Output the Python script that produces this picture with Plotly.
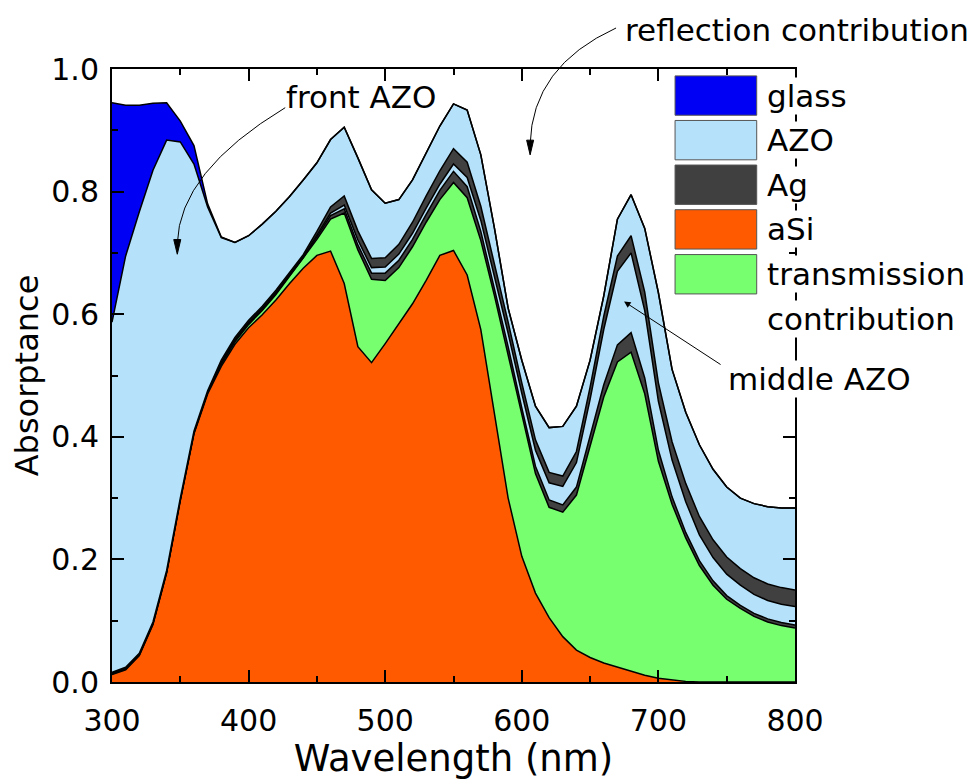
import plotly.graph_objects as go

# Wavelength grid (nm)
wavelength = [300, 310, 320, 330, 340, 350, 360, 370, 380, 390,
              400, 410, 420, 430, 440, 450, 460, 470, 480, 490,
              500, 510, 520, 530, 540, 550, 560, 570, 580, 590,
              600, 610, 620, 630, 640, 650, 660, 670, 680, 690,
              700, 710, 720, 730, 740, 750, 760, 770, 780, 790, 800]

# Cumulative absorptance curves (upper boundary of each stacked layer)
asi_top = [0.012, 0.020, 0.043, 0.094, 0.178, 0.296, 0.405, 0.470, 0.515, 0.551,
           0.578, 0.599, 0.623, 0.650, 0.675, 0.696, 0.703, 0.650, 0.547, 0.521,
           0.552, 0.585, 0.617, 0.655, 0.696, 0.704, 0.664, 0.575, 0.440, 0.300,
           0.205, 0.145, 0.105, 0.074, 0.052, 0.040, 0.031, 0.024, 0.017, 0.011,
           0.006, 0.003, 0.001, 0.0, 0.0, 0.0, 0.0, 0.0, 0.0, 0.0, 0.0]

transmission_top = [0.013, 0.021, 0.044, 0.095, 0.179, 0.297, 0.406, 0.472, 0.518, 0.555,
                    0.583, 0.606, 0.632, 0.662, 0.690, 0.722, 0.755, 0.765, 0.705, 0.657,
                    0.655, 0.676, 0.710, 0.750, 0.787, 0.815, 0.790, 0.720, 0.630, 0.535,
                    0.435, 0.340, 0.285, 0.277, 0.305, 0.385, 0.465, 0.522, 0.538, 0.470,
                    0.360, 0.290, 0.235, 0.190, 0.158, 0.135, 0.120, 0.107, 0.098, 0.092, 0.088]

ag_back_top = [0.014, 0.022, 0.045, 0.096, 0.180, 0.298, 0.407, 0.473, 0.520, 0.557,
               0.585, 0.608, 0.634, 0.664, 0.692, 0.726, 0.761, 0.772, 0.713, 0.667,
               0.667, 0.688, 0.722, 0.763, 0.802, 0.833, 0.808, 0.735, 0.643, 0.547,
               0.447, 0.352, 0.297, 0.289, 0.318, 0.401, 0.485, 0.550, 0.570, 0.496,
               0.378, 0.302, 0.244, 0.198, 0.165, 0.141, 0.125, 0.112, 0.103, 0.097, 0.093]

azo_middle_top = [0.015, 0.023, 0.046, 0.097, 0.181, 0.299, 0.408, 0.474, 0.522, 0.559,
                  0.587, 0.610, 0.636, 0.666, 0.694, 0.729, 0.765, 0.778, 0.721, 0.676,
                  0.677, 0.698, 0.732, 0.773, 0.812, 0.845, 0.823, 0.753, 0.663, 0.569,
                  0.471, 0.378, 0.325, 0.319, 0.358, 0.461, 0.575, 0.670, 0.700, 0.606,
                  0.458, 0.362, 0.294, 0.240, 0.203, 0.176, 0.158, 0.143, 0.133, 0.127, 0.123]

ag_front_top = [0.016, 0.024, 0.047, 0.098, 0.182, 0.300, 0.409, 0.475, 0.525, 0.562,
                0.590, 0.613, 0.639, 0.669, 0.697, 0.735, 0.775, 0.793, 0.736, 0.691,
                0.692, 0.714, 0.750, 0.793, 0.834, 0.870, 0.848, 0.776, 0.683, 0.587,
                0.488, 0.395, 0.342, 0.336, 0.376, 0.481, 0.597, 0.695, 0.728, 0.636,
                0.488, 0.392, 0.324, 0.270, 0.232, 0.204, 0.185, 0.170, 0.160, 0.154, 0.150]

azo_front_top = [0.587, 0.695, 0.767, 0.835, 0.884, 0.881, 0.845, 0.775, 0.725, 0.717,
                 0.728, 0.747, 0.768, 0.792, 0.819, 0.847, 0.885, 0.905, 0.855, 0.803,
                 0.781, 0.787, 0.819, 0.863, 0.907, 0.943, 0.933, 0.860, 0.740, 0.610,
                 0.525, 0.450, 0.415, 0.417, 0.450, 0.525, 0.630, 0.755, 0.795, 0.740,
                 0.635, 0.510, 0.440, 0.387, 0.347, 0.318, 0.300, 0.291, 0.286, 0.284, 0.284]

glass_top = [0.945, 0.941, 0.941, 0.944, 0.945, 0.915, 0.875, 0.780, 0.726, 0.717,
             0.728, 0.747, 0.768, 0.792, 0.819, 0.847, 0.885, 0.905, 0.855, 0.803,
             0.781, 0.787, 0.819, 0.863, 0.907, 0.943, 0.933, 0.860, 0.740, 0.610,
             0.525, 0.450, 0.415, 0.417, 0.450, 0.525, 0.630, 0.755, 0.795, 0.740,
             0.635, 0.510, 0.440, 0.387, 0.347, 0.318, 0.300, 0.291, 0.286, 0.284, 0.284]

legend_labels = ["glass", "AZO", "Ag", "aSi", "transmission"]

C_GLASS = "#0000F5"
C_AZO = "#B5E2FA"
C_AG = "#404040"
C_ASI = "#FF5A00"
C_TRANS = "#77FF70"
FONT = "DejaVu Sans"

layers = [
    ("aSi", asi_top, C_ASI, "tozeroy"),
    ("transmission contribution", transmission_top, C_TRANS, "tonexty"),
    ("Ag (back)", ag_back_top, C_AG, "tonexty"),
    ("middle AZO", azo_middle_top, C_AZO, "tonexty"),
    ("Ag (front)", ag_front_top, C_AG, "tonexty"),
    ("front AZO", azo_front_top, C_AZO, "tonexty"),
    ("glass", glass_top, C_GLASS, "tonexty"),
]

fig = go.Figure()
for name, ys, col, fill in layers:
    fig.add_trace(go.Scatter(
        x=wavelength, y=ys, name=name, mode="lines", fill=fill,
        fillcolor=col, line=dict(color="black", width=1.5),
        showlegend=False, hoverinfo="skip"))

# Plot area in page pixels: x 111.7..795, y 68.7..691.7
def px(xp):
    return (xp - 111.7) / 683.3

def py(yp):
    return (691.7 - yp) / 623.0

shapes = []
annotations = []

# Custom legend (boxes + labels)
legend_colors = [C_GLASS, C_AZO, C_AG, C_ASI, C_TRANS]
box_tops = [75.7, 121.0, 166.3, 211.7, 257.3]
for lab, col, top in zip(legend_labels, legend_colors, box_tops):
    shapes.append(dict(type="rect", xref="paper", yref="paper",
                       x0=px(675), x1=px(756.7), y0=py(top), y1=py(top + 40),
                       fillcolor=col, line=dict(color="#555555", width=1), layer="above"))
    annotations.append(dict(text=lab, xref="paper", yref="paper", x=px(766),
                            y=py(top + 20), xanchor="left", yanchor="middle",
                            showarrow=False, bgcolor="white", borderpad=0,
                            font=dict(family=FONT, size=31, color="black")))
annotations.append(dict(text="contribution", xref="paper", yref="paper", x=px(766),
                        y=py(323), xanchor="left", yanchor="middle", showarrow=False,
                        bgcolor="white", borderpad=0,
                        font=dict(family=FONT, size=31, color="black")))

# Text labels
annotations.append(dict(text="middle AZO", xref="paper", yref="paper", x=px(820),
                        y=py(384), xanchor="center", yanchor="middle", showarrow=False,
                        bgcolor="white", borderpad=0,
                        font=dict(family=FONT, size=31, color="black")))
annotations.append(dict(text="front AZO", xref="paper", yref="paper", x=px(361),
                        y=py(97), xanchor="center", yanchor="middle", showarrow=False,
                        font=dict(family=FONT, size=31, color="black")))
annotations.append(dict(text="reflection contribution", xref="paper", yref="paper",
                        x=px(797), y=py(29), xanchor="center", yanchor="middle",
                        showarrow=False, font=dict(family=FONT, size=31, color="black")))

# Straight arrow to middle AZO
annotations.append(dict(text="", xref="paper", yref="paper", x=px(624), y=py(305),
                        ax=98, ay=64, showarrow=True, arrowhead=2, arrowsize=1.3,
                        arrowwidth=1, arrowcolor="black"))

# Curved arrows (front AZO, reflection contribution)
def qpath(p0, c, p2):
    return "M {:.4f},{:.4f} Q {:.4f},{:.4f} {:.4f},{:.4f}".format(
        px(p0[0]), py(p0[1]), px(c[0]), py(c[1]), px(p2[0]), py(p2[1]))

def tri(tip, half, length):
    x, y = tip
    return "M {:.4f},{:.4f} L {:.4f},{:.4f} L {:.4f},{:.4f} Z".format(
        px(x), py(y), px(x - half), py(y - length), px(x + half), py(y - length))

shapes.append(dict(type="path", xref="paper", yref="paper",
                   path=qpath((285, 108), (179, 173), (177, 246)),
                   line=dict(color="black", width=1), layer="above"))
shapes.append(dict(type="path", xref="paper", yref="paper", path=tri((177, 257), 3.5, 15),
                   fillcolor="black", line=dict(color="black", width=1), layer="above"))
shapes.append(dict(type="path", xref="paper", yref="paper",
                   path=qpath((616, 27), (532, 66), (530, 145)),
                   line=dict(color="black", width=1), layer="above"))
shapes.append(dict(type="path", xref="paper", yref="paper", path=tri((530, 156), 3.5, 15),
                   fillcolor="black", line=dict(color="black", width=1), layer="above"))

axis_common = dict(
    showline=True, linewidth=2, linecolor="black", mirror="ticks",
    ticks="inside", ticklen=12, tickwidth=2, tickcolor="black",
    showgrid=False, zeroline=False,
    tickfont=dict(family=FONT, size=30, color="black"),
)

# The page body adds an 8 px offset, so the figure is 8 px smaller and margins shifted.
fig.update_layout(
    width=970, height=772,
    margin=dict(l=104, r=183, t=61, b=88),
    paper_bgcolor="white", plot_bgcolor="white",
    xaxis=dict(range=[300, 800], tick0=300, dtick=100,
               minor=dict(dtick=50, ticks="inside", ticklen=6, tickwidth=2, tickcolor="black"),
               ticklabelstandoff=11,
               title=dict(text="Wavelength (nm)", standoff=4,
                          font=dict(family=FONT, size=37, color="black")),
               **axis_common),
    yaxis=dict(range=[0, 1], tick0=0, dtick=0.2, tickformat=".1f",
               minor=dict(dtick=0.1, ticks="inside", ticklen=6, tickwidth=2, tickcolor="black"),
               ticklabelstandoff=5,
               title=dict(text="Absorptance", standoff=6,
                          font=dict(family=FONT, size=32, color="black")),
               **axis_common),
    shapes=shapes,
    annotations=annotations,
    showlegend=False,
)

fig.write_html("out.html")
